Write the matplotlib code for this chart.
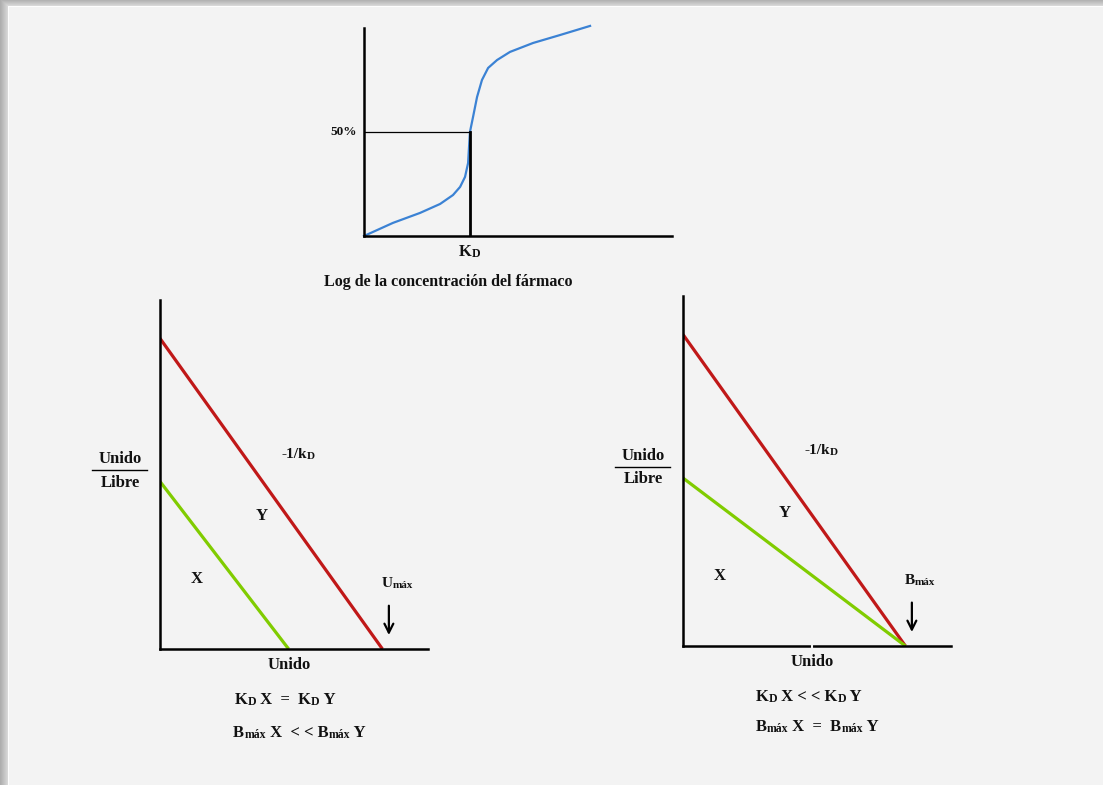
import numpy as np
import matplotlib
matplotlib.use("Agg")
import matplotlib.pyplot as plt
from matplotlib.transforms import ScaledTranslation

plt.rcParams['font.family'] = ['Liberation Serif', 'DejaVu Serif']
plt.rcParams['font.weight'] = 'bold'

BG = '#f4f4f4'
RED = '#c01818'
GREEN = '#80cc00'
BLUE = '#3b82d4'
TXT = '#111111'

# saturation curve: log concentration vs % bound
log_conc = [0.0, 0.94, 1.82, 2.47, 2.89, 3.12, 3.28, 3.38, 3.41, 3.44, 3.54, 3.67,
            3.83, 4.03, 4.32, 4.74, 5.49, 6.36, 7.34]
pct_bound = [0.0, 6.3, 11.1, 15.4, 19.7, 23.6, 28.4, 35.1, 42.8, 50.0, 57.2, 66.8,
             75.0, 80.8, 84.6, 88.5, 92.8, 96.6, 101.0]
kd_log = 3.44
half = 50

# Scatchard lines: (x intercept = Bmax, y intercept)
left_red = (8.3, 8.9)
left_green = (4.8, 4.8)
right_red = (8.3, 8.9)
right_green = (8.3, 4.8)

MAIN = 12
SUB = 8.5


def shadow_background(fig):
    h, w = 785, 1103
    img = np.full((h, w), 0.957)
    top = np.linspace(0.70, 0.84, 6)
    img[:6, :] = top[:, None]
    img[6, :] = 0.99
    left = np.linspace(0.68, 0.84, 8)
    img[:, :8] = np.minimum(img[:, :8], left[None, :])
    img[7:, 8] = 0.99
    bg = fig.add_axes([0, 0, 1, 1], zorder=-10)
    bg.imshow(img, cmap='gray', vmin=0, vmax=1, aspect='auto', interpolation='nearest')
    bg.axis('off')


def rich(ax, x, y, parts):
    """Write a run of (text, size) pieces side by side, centred on x."""
    fig = ax.figure
    first = ax.text(x, y, parts[0][0], fontsize=parts[0][1], color=TXT,
                    ha='left', va='center')
    pieces = [first]
    prev = first
    for s, size in parts[1:]:
        prev = ax.annotate(s, xy=(1, 0), xycoords=prev, fontsize=size, color=TXT,
                           ha='left', va='bottom')
        pieces.append(prev)
    r = fig.canvas.get_renderer()
    width = sum(p.get_window_extent(r).width for p in pieces)
    first.set_transform(ax.transData + ScaledTranslation(-width / 2 / fig.dpi, 0,
                                                         fig.dpi_scale_trans))
    return pieces


def l_axes(ax):
    ax.set_facecolor('none')
    for s in ['top', 'right']:
        ax.spines[s].set_visible(False)
    for s in ['left', 'bottom']:
        ax.spines[s].set_linewidth(1.8)
        ax.spines[s].set_color('black')
    ax.set_xticks([])
    ax.set_yticks([])


def scatchard(ax, red, green, top_letter, gap=None):
    ax.set_xlim(0, 10)
    ax.set_ylim(0, 10)
    l_axes(ax)
    ax.plot([0, red[0]], [red[1], 0], color=RED, lw=2.3, solid_capstyle='butt')
    ax.plot([0, green[0]], [green[1], 0], color=GREEN, lw=2.3, solid_capstyle='butt')
    rich(ax, 5.17, 5.58, [('-1/k', 11), ('D', 8)])
    ax.text(3.8, 3.8, 'Y', fontsize=MAIN, color=TXT, ha='center', va='center')
    ax.text(1.38, 2.0, 'X', fontsize=MAIN, color=TXT, ha='center', va='center')
    rich(ax, red[0] + 0.55, 1.88, [(top_letter, 11), ('máx', 8)])
    ax.annotate('', xy=(red[0] + 0.24, 0.32), xytext=(red[0] + 0.24, 1.32),
                arrowprops=dict(arrowstyle='->', lw=1.6, color='black', mutation_scale=16))
    # Unido / Libre fraction on the y axis
    ax.text(-1.48, 5.43, 'Unido', fontsize=MAIN, color=TXT, ha='center', va='center')
    ax.plot([-2.52, -0.49], [5.12, 5.12], color='black', lw=1.0, clip_on=False)
    ax.text(-1.48, 4.76, 'Libre', fontsize=MAIN, color=TXT, ha='center', va='center')
    ax.text(4.81, -0.45, 'Unido', fontsize=MAIN, color=TXT, ha='center', va='center')
    if gap is not None:
        ax.plot([gap, gap], [-0.06, 0.06], color=BG, lw=1.5, clip_on=False, zorder=5)


fig = plt.figure(figsize=(11.03, 7.85), dpi=100, facecolor=BG)
shadow_background(fig)

# top: binding curve
ax0 = fig.add_axes([364 / 1103, 1 - 236 / 785, 308 / 1103, 208 / 785])
ax0.set_xlim(0, 10)
ax0.set_ylim(0, 100)
l_axes(ax0)
ax0.plot(log_conc, pct_bound, color=BLUE, lw=1.6, clip_on=False,
         solid_joinstyle='round')
ax0.plot([0, kd_log], [half, half], color='black', lw=0.9)
ax0.plot([kd_log, kd_log], [0, half], color='black', lw=2.0)
ax0.text(-0.22, half, '50%', fontsize=9.5, color=TXT, ha='right', va='center')
rich(ax0, kd_log, -7.7, [('K', MAIN), ('D', SUB)])
ax0.text(2.75, -22.1, 'Log de la concentración del fármaco', fontsize=11.5,
         color=TXT, ha='center', va='center')

# bottom left: same KD, different Bmax
ax1 = fig.add_axes([160 / 1103, 1 - 649 / 785, 268 / 1103, 349 / 785])
scatchard(ax1, left_red, left_green, 'U')
rich(ax1, 4.66, -1.46, [('K', MAIN), ('D', SUB), (' X  =  K', MAIN), ('D', SUB), (' Y', MAIN)])
rich(ax1, 5.2, -2.41, [('B', MAIN), ('máx', SUB), (' X  < < B', MAIN), ('máx', SUB), (' Y', MAIN)])

# bottom right: same Bmax, different KD
ax2 = fig.add_axes([683 / 1103, 1 - 646 / 785, 268 / 1103, 350 / 785])
scatchard(ax2, right_red, right_green, 'B', gap=4.81)
rich(ax2, 4.7, -1.46, [('K', MAIN), ('D', SUB), (' X < < K', MAIN), ('D', SUB), (' Y', MAIN)])
rich(ax2, 5.0, -2.31, [('B', MAIN), ('máx', SUB), (' X  =  B', MAIN), ('máx', SUB), (' Y', MAIN)])

fig.savefig('out.png', dpi=100, facecolor=BG)
